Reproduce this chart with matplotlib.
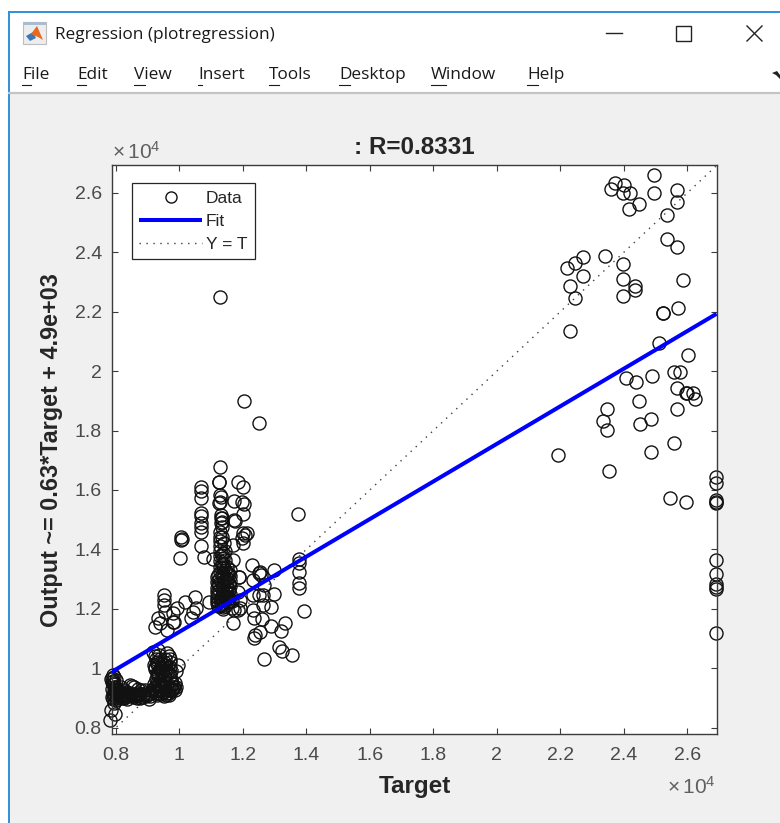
import matplotlib
matplotlib.use("Agg")
import matplotlib.pyplot as plt
from matplotlib.patches import Polygon, Rectangle

# ---------------------------------------------------------------------------
# Data (units of 1e4)
# ---------------------------------------------------------------------------
target_high = [2.496, 2.373, 2.400, 2.360, 2.396, 2.419, 2.496, 2.566, 2.566, 2.447,
               2.415, 2.536, 2.535, 2.566, 2.342, 2.270, 2.247, 2.222, 2.271, 2.398,
               2.398, 2.434, 2.434, 2.397, 2.229, 2.247, 2.229, 2.585, 2.522, 2.524,
               2.570, 2.512, 2.603, 2.407, 2.438, 2.488, 2.559, 2.577, 2.566, 2.596,
               2.619, 2.625, 2.598, 2.447, 2.347, 2.568, 2.334, 2.487, 2.452, 2.347,
               2.557, 2.486, 2.194, 2.353, 2.547, 2.596]
output_high = [2.659, 2.635, 2.628, 2.613, 2.599, 2.599, 2.599, 2.609, 2.569, 2.562,
               2.547, 2.525, 2.446, 2.419, 2.386, 2.383, 2.365, 2.346, 2.319, 2.360,
               2.310, 2.287, 2.273, 2.253, 2.287, 2.245, 2.135, 2.306, 2.197, 2.197,
               2.212, 2.096, 2.055, 1.977, 1.965, 1.984, 1.996, 1.998, 1.942, 1.928,
               1.925, 1.907, 1.925, 1.901, 1.874, 1.874, 1.832, 1.840, 1.823, 1.802,
               1.757, 1.728, 1.718, 1.664, 1.574, 1.558]

output_max_target = [1.643, 1.622, 1.566, 1.561, 1.555, 1.364, 1.316, 1.282, 1.274, 1.268, 1.117]
target_max = [2.691] * len(output_max_target)

target_mid = [1.129, 1.205, 1.252, 1.129, 1.126, 1.186, 1.199, 1.069, 1.069, 1.069,
              1.129, 1.126, 1.173, 1.197, 1.202, 1.199, 1.172, 1.069, 1.069, 1.069,
              1.069, 1.069, 1.069, 1.076, 1.005, 1.007, 1.004, 1.003, 1.208, 1.198,
              1.199, 1.132, 1.132, 1.132, 1.135, 1.135, 1.135, 1.131, 1.128, 1.125,
              1.372, 1.378, 1.378, 1.378, 1.378, 1.378, 1.394, 1.228, 1.297, 1.252,
              1.258, 1.255, 1.231, 1.268, 1.297, 1.231, 1.252, 1.262, 1.289, 1.262,
              1.231, 1.236, 1.259, 1.289, 1.333, 1.320, 1.255, 1.238, 1.236, 1.313,
              1.322, 1.354, 1.268, 1.189, 1.168, 1.185, 1.172, 1.092, 1.049, 1.019,
              0.992, 1.052, 1.044, 1.037, 0.950, 0.950, 0.950, 0.953, 0.934, 0.939,
              0.924, 0.961, 0.979, 0.984, 0.979, 1.107, 1.170, 1.175, 1.212, 1.200]
output_mid = [2.250, 1.900, 1.826, 1.676, 1.626, 1.626, 1.609, 1.609, 1.598, 1.572,
              1.583, 1.557, 1.564, 1.561, 1.553, 1.519, 1.499, 1.521, 1.512, 1.488,
              1.474, 1.457, 1.411, 1.374, 1.441, 1.436, 1.430, 1.370, 1.449, 1.437,
              1.423, 1.516, 1.505, 1.488, 1.504, 1.493, 1.476, 1.577, 1.560, 1.628,
              1.520, 1.367, 1.355, 1.325, 1.286, 1.269, 1.192, 1.348, 1.329, 1.321,
              1.313, 1.325, 1.297, 1.280, 1.249, 1.246, 1.246, 1.246, 1.207, 1.213,
              1.196, 1.170, 1.166, 1.143, 1.153, 1.126, 1.123, 1.112, 1.101, 1.070,
              1.059, 1.045, 1.032, 1.308, 1.153, 1.197, 1.197, 1.224, 1.241, 1.224,
              1.202, 1.202, 1.188, 1.168, 1.246, 1.230, 1.213, 1.190, 1.168, 1.151,
              1.137, 1.127, 1.157, 1.157, 1.185, 1.369, 1.414, 1.495, 1.454, 1.454]

# dense column around Target = 1.13
target_col = [1.117, 1.117, 1.117, 1.117, 1.117, 1.117, 1.117, 1.125, 1.125, 1.125,
              1.128, 1.128, 1.128, 1.128, 1.128, 1.128, 1.128, 1.128, 1.128, 1.128,
              1.138, 1.138, 1.138, 1.138, 1.138, 1.138, 1.138, 1.138, 1.138, 1.138,
              1.138, 1.138, 1.138, 1.138, 1.150, 1.150, 1.150, 1.150, 1.150, 1.150,
              1.150, 1.150, 1.159, 1.159, 1.159, 1.159, 1.159, 1.159, 1.170, 1.188,
              1.185, 1.190, 1.190, 1.166, 1.135, 1.140, 1.145, 1.130, 1.120, 1.165,
              1.122, 1.122, 1.122, 1.122, 1.133, 1.133, 1.133, 1.133, 1.133, 1.133,
              1.143, 1.143, 1.143, 1.143, 1.143, 1.143, 1.155, 1.155, 1.155, 1.155]
output_col = [1.308, 1.290, 1.270, 1.255, 1.240, 1.228, 1.218, 1.300, 1.280, 1.262,
              1.458, 1.442, 1.428, 1.412, 1.395, 1.378, 1.360, 1.342, 1.325, 1.232,
              1.388, 1.372, 1.352, 1.338, 1.320, 1.305, 1.290, 1.275, 1.258, 1.245,
              1.230, 1.218, 1.205, 1.198, 1.340, 1.322, 1.305, 1.290, 1.272, 1.255,
              1.240, 1.222, 1.330, 1.310, 1.295, 1.275, 1.250, 1.225, 1.364, 1.308,
              1.257, 1.229, 1.202, 1.204, 1.440, 1.420, 1.395, 1.215, 1.210, 1.225,
              1.315, 1.285, 1.250, 1.222, 1.380, 1.350, 1.315, 1.268, 1.240, 1.212,
              1.365, 1.330, 1.298, 1.265, 1.235, 1.208, 1.318, 1.283, 1.262, 1.235]

# low cluster near the start of the fit line
target_low = [0.783, 0.798, 0.782, 0.794, 0.785, 0.790, 0.795, 0.800, 0.787, 0.792,
              0.798, 0.786, 0.793, 0.800, 0.790, 0.796, 0.803, 0.792, 0.799, 0.805,
              0.810, 0.818, 0.826, 0.834, 0.844, 0.850, 0.858, 0.815, 0.825, 0.835,
              0.845, 0.855, 0.865, 0.875, 0.885, 0.895, 0.905, 0.870, 0.880, 0.890,
              0.918, 0.922, 0.926, 0.930, 0.934, 0.920, 0.924, 0.928, 0.932, 0.936,
              0.940, 0.944, 0.925, 0.929, 0.933, 0.938, 0.942, 0.946, 0.950, 0.920,
              0.927, 0.935, 0.943, 0.950, 0.956, 0.924, 0.932, 0.940, 0.948, 0.956,
              0.962, 0.968, 0.970, 0.970, 0.971, 0.972, 0.970, 0.974, 0.978, 0.984,
              0.996, 0.990, 0.985, 0.978, 0.972, 0.966, 0.958, 0.950, 0.942, 0.934,
              0.962, 0.955, 0.946, 0.938, 0.930, 0.960, 0.975, 0.988, 0.968, 0.952,
              0.788, 0.791, 0.794, 0.797, 0.800, 0.803, 0.806, 0.789, 0.793, 0.797,
              0.801, 0.805, 0.809, 0.813, 0.817, 0.821, 0.825, 0.829, 0.833, 0.837,
              0.841, 0.846, 0.851, 0.856, 0.861, 0.866, 0.871, 0.876, 0.881, 0.886,
              0.891, 0.896, 0.901, 0.906, 0.911, 0.915, 0.922, 0.926, 0.931, 0.936,
              0.941, 0.946, 0.951, 0.956, 0.961, 0.966, 0.971, 0.976, 0.981, 0.986,
              0.923, 0.928, 0.933, 0.938, 0.943, 0.948, 0.953, 0.958, 0.963, 0.968]
output_low = [0.859, 0.845, 0.826, 0.882, 0.965, 0.977, 0.970, 0.960, 0.952, 0.945,
              0.936, 0.930, 0.925, 0.918, 0.910, 0.905, 0.900, 0.895, 0.892, 0.925,
              0.915, 0.905, 0.900, 0.895, 0.944, 0.940, 0.935, 0.935, 0.928, 0.920,
              0.912, 0.905, 0.898, 0.900, 0.905, 0.905, 0.895, 0.930, 0.925, 0.928,
              1.055, 1.040, 1.030, 1.020, 1.060, 1.010, 0.998, 0.985, 0.975, 1.045,
              1.030, 1.015, 0.962, 0.950, 0.940, 0.930, 1.000, 0.990, 0.975, 0.945,
              0.925, 0.915, 0.960, 0.945, 1.030, 0.935, 0.925, 0.912, 0.920, 1.010,
              1.050, 1.040, 1.030, 1.020, 1.005, 0.990, 0.975, 0.960, 0.945, 0.935,
              1.011, 0.990, 0.950, 0.930, 0.925, 0.915, 0.910, 0.905, 0.945, 0.980,
              0.985, 0.970, 0.925, 1.000, 0.908, 0.915, 0.960, 0.935, 0.910, 1.020,
              0.968, 0.958, 0.948, 0.938, 0.928, 0.918, 0.908, 0.903, 0.913, 0.923,
              0.933, 0.915, 0.905, 0.910, 0.900, 0.908, 0.913, 0.903, 0.910, 0.905,
              0.915, 0.908, 0.912, 0.902, 0.910, 0.915, 0.908, 0.913, 0.903, 0.910,
              0.915, 0.908, 0.913, 0.905, 0.915, 0.925, 0.935, 0.915, 0.925, 0.945,
              0.925, 0.935, 0.920, 0.930, 0.940, 0.925, 0.935, 0.925, 0.935, 0.925,
              1.005, 1.015, 0.985, 0.995, 1.005, 0.965, 0.985, 0.995, 1.005, 0.985]

fit_x = [0.786, 2.692]
fit_y = [0.987, 2.193]
ideal_x = [0.786, 2.692]
ideal_y = [0.786, 2.692]

x_ticks = [0.8, 1, 1.2, 1.4, 1.6, 1.8, 2, 2.2, 2.4, 2.6]
x_tick_labels = ["0.8", "1", "1.2", "1.4", "1.6", "1.8", "2", "2.2", "2.4", "2.6"]
y_ticks = [0.8, 1, 1.2, 1.4, 1.6, 1.8, 2, 2.2, 2.4, 2.6]
y_tick_labels = ["0.8", "1", "1.2", "1.4", "1.6", "1.8", "2", "2.2", "2.4", "2.6"]

menu_items = ["File", "Edit", "View", "Insert", "Tools", "Desktop", "Window", "Help"]
menu_x = [22, 77, 134, 198, 269, 339, 431, 527]
menu_ul = [9, 9, 11, 4, 10, 11, 15, 11]

# ---------------------------------------------------------------------------
# Colours
# ---------------------------------------------------------------------------
PANEL = "#F0F0F0"
BORDER = "#2F8FD8"
AXIS = "#3C3C3C"
TICK_TEXT = "#4A4A4A"
LABEL_TEXT = "#262626"

W, H = 780, 823
plt.rcParams["font.family"] = ["Liberation Sans", "DejaVu Sans"]
plt.rcParams["mathtext.default"] = "regular"

fig = plt.figure(figsize=(W / 100, H / 100), dpi=100, facecolor="white")

# ---------------------------------------------------------------------------
# Window chrome, in pixel coordinates
# ---------------------------------------------------------------------------
win = fig.add_axes([0, 0, 1, 1], zorder=-1)
win.set_xlim(0, W)
win.set_ylim(H, 0)
win.axis("off")
win.add_patch(Rectangle((9, 93), W - 9, H - 93, fc=PANEL, ec="none"))
win.plot([9, 9], [12, H], color=BORDER, lw=1.4)
win.plot([9, W], [12, 12], color=BORDER, lw=1.4)
win.plot([9, W], [93, 93], color="#C4C4C4", lw=1.6)

# little MATLAB icon
win.add_patch(Rectangle((23, 22), 23, 22, fc="#EDEDED", ec="#BDBDBD", lw=0.8))
win.add_patch(Rectangle((23, 22), 23, 3, fc="#A9BCD0", ec="none"))
win.add_patch(Polygon([[26, 36], [33, 32], [36, 38], [30, 41]], fc="#3C78B4", ec="none"))
win.add_patch(Polygon([[31, 34], [37, 26], [43, 40], [38, 37]], fc="#E8681E", ec="none"))

win.text(55, 35, "Regression (plotregression)", fontsize=12.4, family="Open Sans",
         color="#1A1A1A", va="center", ha="left")
for name, mx, ul in zip(menu_items, menu_x, menu_ul):
    win.text(mx, 75, name, fontsize=12.4, family="Open Sans", color="#1A1A1A",
             va="center", ha="left")
    win.plot([mx, mx + ul], [85, 85], color="#1A1A1A", lw=0.8)

# window buttons
win.plot([606, 622], [33, 33], color="#222222", lw=1)
win.add_patch(Rectangle((676, 26), 15, 15, fc="none", ec="#222222", lw=1))
win.plot([747, 762], [26, 41], color="#222222", lw=1)
win.plot([747, 762], [41, 26], color="#222222", lw=1)
win.add_patch(Polygon([[772, 73], [777, 71], [780, 75], [780, 79], [776, 75]], fc="#222222", ec="none"))

# ---------------------------------------------------------------------------
# Regression plot
# ---------------------------------------------------------------------------
ax = fig.add_axes([111.5 / W, 1 - 733.5 / H, 605 / W, 568.5 / H], facecolor="white")

data_style = dict(ls="none", marker="o", ms=9.4, mfc="none", mec="#111111", mew=1.0, clip_on=False)
ax.plot(target_high, output_high, label="Data", **data_style)
ax.plot(target_max, output_max_target, **data_style)
ax.plot(target_mid, output_mid, **data_style)
ax.plot(target_col, output_col, **data_style)
ax.plot(target_low, output_low, **data_style)
ax.plot(fit_x, fit_y, color="#0000FF", lw=2.9, label="Fit", zorder=4, solid_capstyle="butt")
ax.plot(ideal_x, ideal_y, color="#404040", lw=1.0, ls=(0, (1, 4)), label="Y = T", zorder=3)

ax.set_xlim(0.786, 2.692)
ax.set_ylim(0.78, 2.694)
ax.set_xticks(x_ticks, x_tick_labels)
ax.set_yticks(y_ticks, y_tick_labels)
ax.tick_params(axis="both", which="major", direction="in", length=4.5, width=0.8, top=True, right=True,
               labelsize=14, labelcolor=TICK_TEXT, color=AXIS, pad=7)
ax.tick_params(axis="x", pad=10)
for spine in ax.spines.values():
    spine.set_color(AXIS)
    spine.set_linewidth(1.0)

handles, labels = ax.get_legend_handles_labels()
leg = ax.legend(handles, labels, loc="upper left", bbox_to_anchor=(0.0335, 0.968), fontsize=12.5,
                handlelength=3.65, handletextpad=0.2, labelspacing=0.46, borderpad=0.42, borderaxespad=0,
                fancybox=False, framealpha=1, edgecolor="#262626", numpoints=1)
leg.get_frame().set_linewidth(0.9)
leg.legend_handles[0].set_markersize(8)
for text in leg.get_texts():
    text.set_color(LABEL_TEXT)

fig.text(414 / W, 1 - 147 / H, ": R=0.8331", fontsize=17.5, fontweight="bold", color=LABEL_TEXT,
         ha="center", va="center")
fig.text(415 / W, 1 - 786 / H, "Target", fontsize=17.5, fontweight="bold", color=LABEL_TEXT,
         ha="center", va="center")
fig.text(52 / W, 1 - 450 / H, "Output ~= 0.63*Target + 4.9e+03", fontsize=16.8, fontweight="bold",
         color=LABEL_TEXT, rotation=90, ha="center", va="center")
fig.text(112 / W, 1 - 163 / H, r"$\times\,10^{4}$", fontsize=15, color="#606060", ha="left", va="bottom")
fig.text(667 / W, 1 - 798 / H, r"$\times\,10^{4}$", fontsize=15, color="#606060", ha="left", va="bottom")

fig.savefig("out.png", dpi=100, facecolor=fig.get_facecolor())
